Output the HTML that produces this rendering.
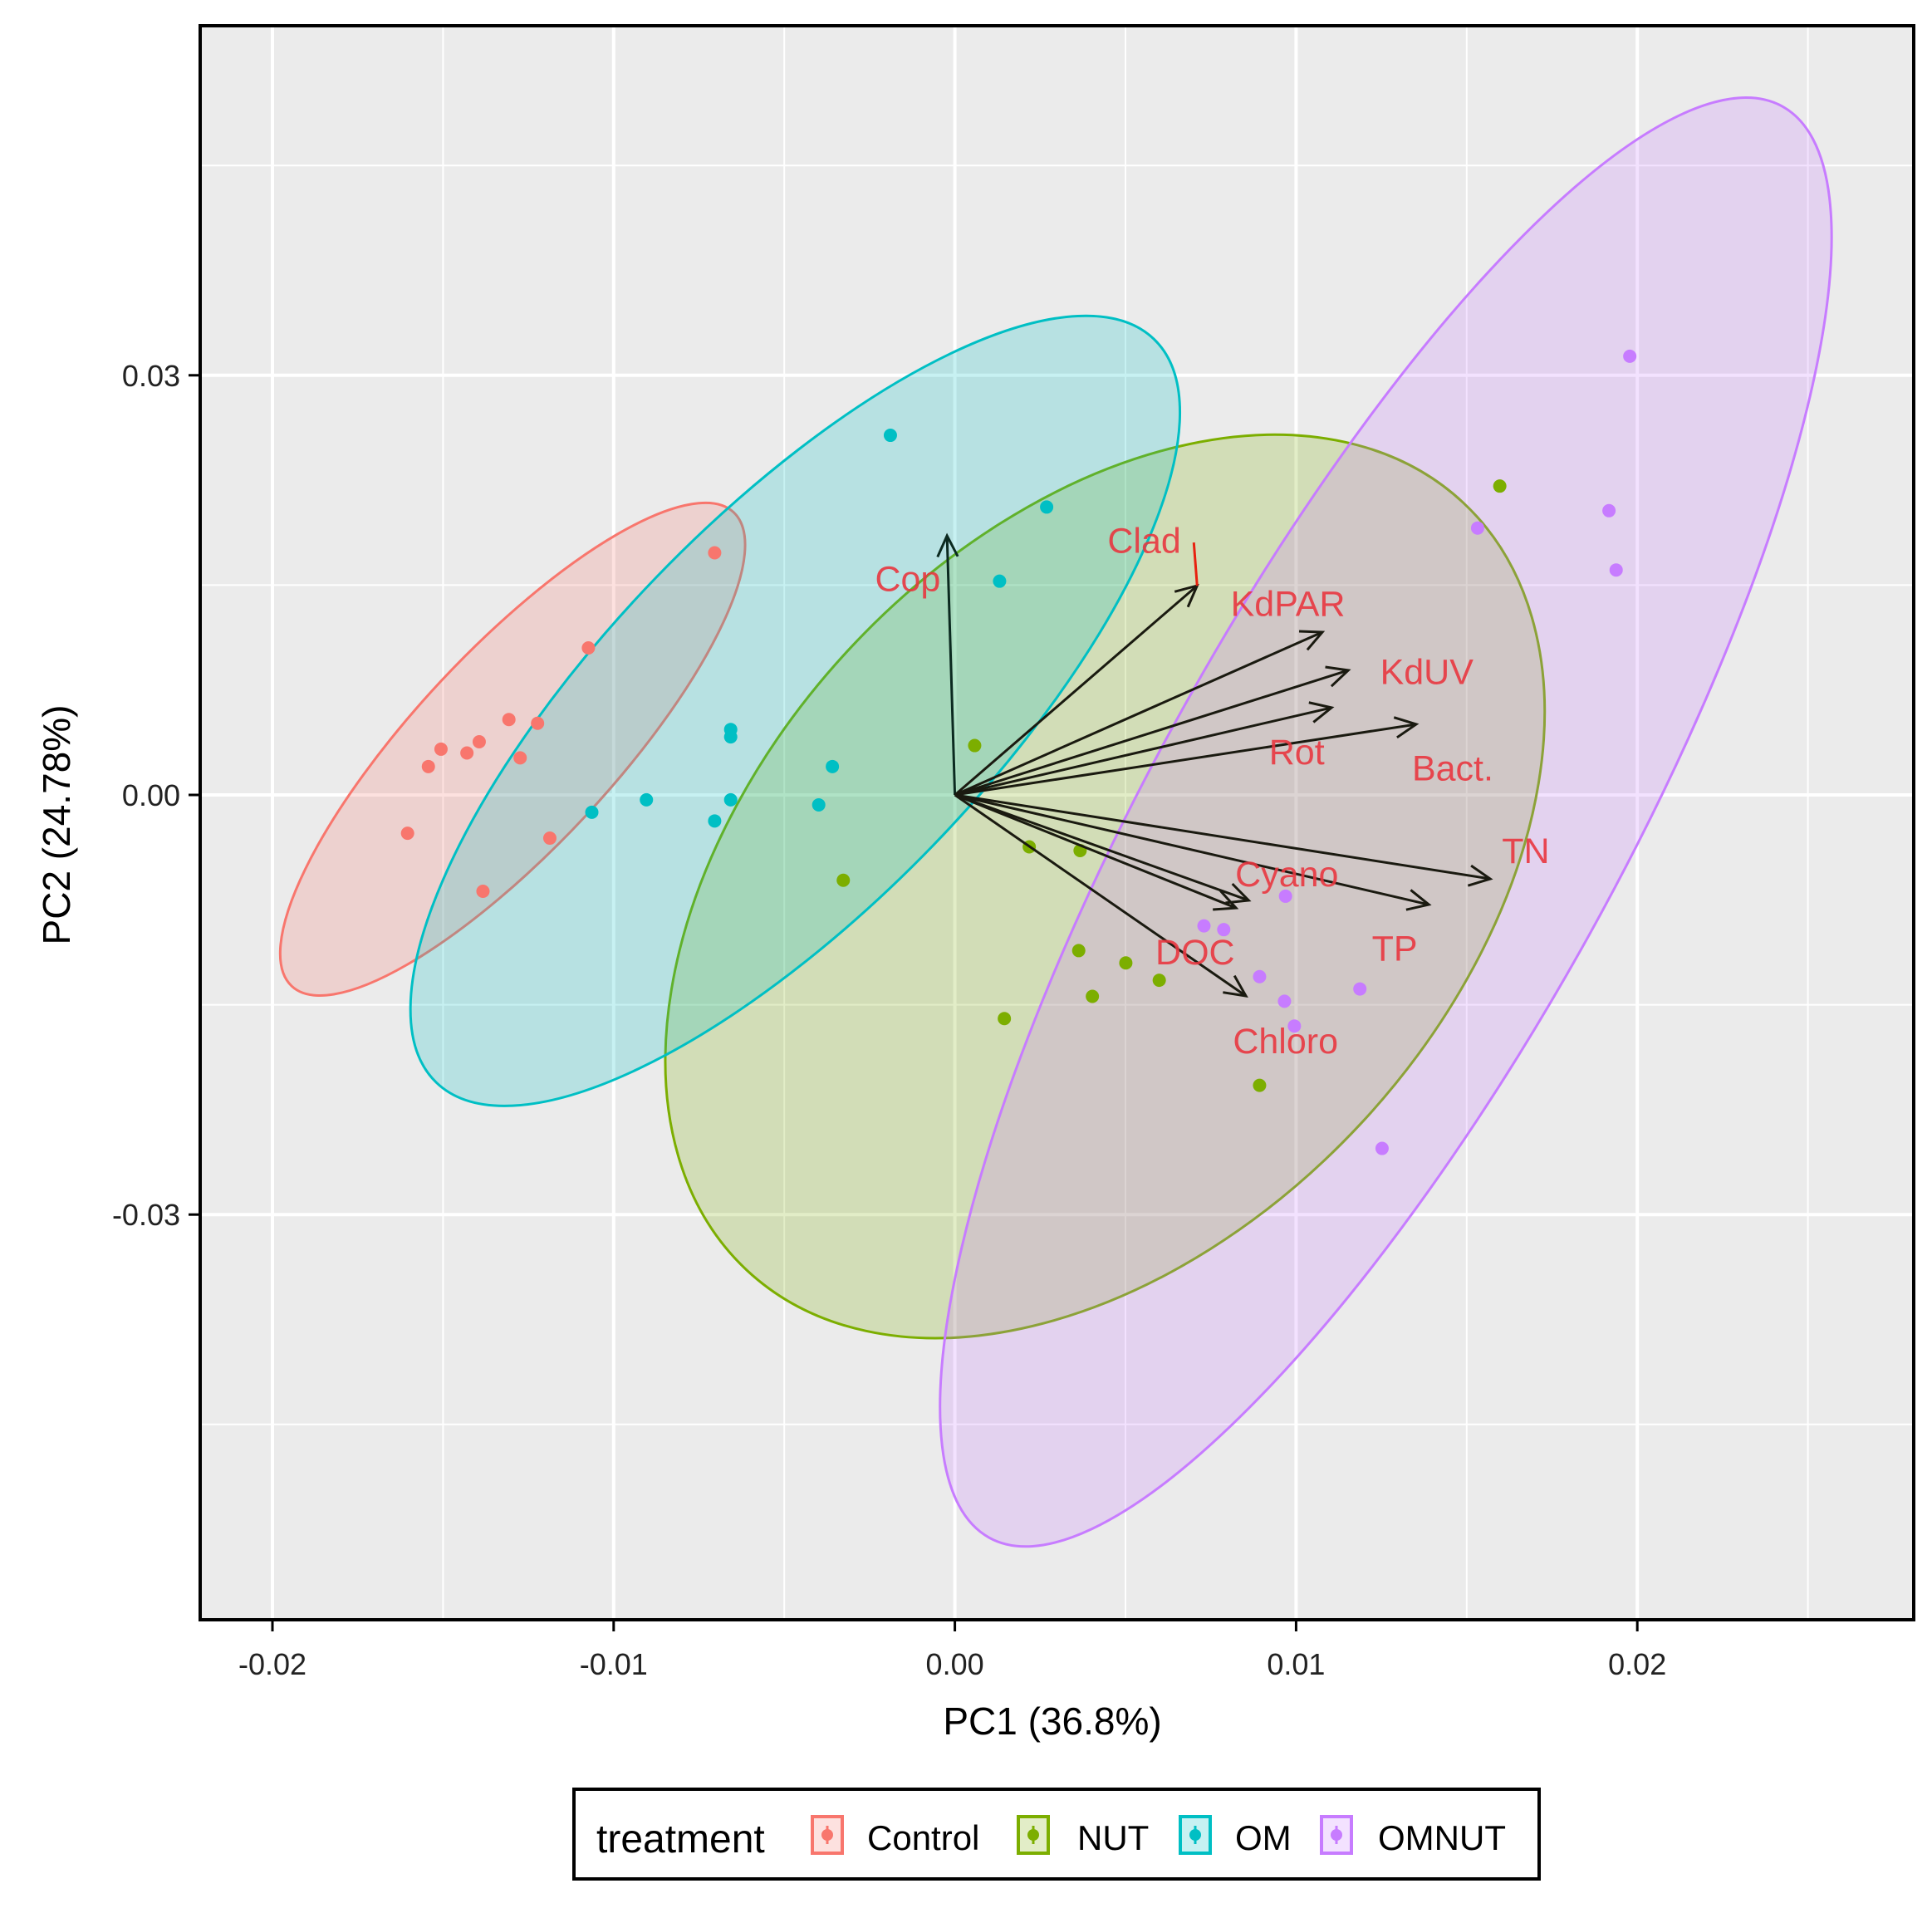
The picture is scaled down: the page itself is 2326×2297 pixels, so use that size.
<!DOCTYPE html>
<html><head><meta charset="utf-8"><style>
html,body{margin:0;padding:0;background:#fff;}
svg text{font-family:"Liberation Sans",sans-serif;}
</style></head><body>
<svg id="chart" xmlns="http://www.w3.org/2000/svg" width="2326" height="2292" viewBox="0 0 2326 2292">
<rect x="0" y="0" width="2326" height="2292" fill="#fff"/>
<g id="panel"></g>
<g id="ellipses"></g>
<g id="points"></g>
<g id="arrows"></g>
<g id="labels"></g>
<g id="axes"></g>
<g id="legend"></g>
</svg>
<script>
const xTicks = [-0.02, -0.01, 0.00, 0.01, 0.02];
const xTickLabels = ["-0.02", "-0.01", "0.00", "0.01", "0.02"];
const yTicks = [-0.03, 0.00, 0.03];
const yTickLabels = ["-0.03", "0.00", "0.03"];
const xMinor = [-0.015, -0.005, 0.005, 0.015, 0.025];
const yMinor = [-0.045, -0.015, 0.015, 0.045];
const groups = ["Control", "NUT", "OM", "OMNUT"];
const controlX = [-0.01074,-0.00704,-0.01307,-0.01223,-0.01394,-0.01506,-0.01430,-0.01543,-0.01274,-0.01604,-0.01187,-0.01383];
const controlY = [0.01051,0.01731,0.00539,0.00512,0.00380,0.00327,0.00300,0.00203,0.00265,-0.00274,-0.00309,-0.00689];
const nutX = [0.01597,0.00058,0.00218,0.00367,-0.00327,0.00363,0.00501,0.00599,0.00403,0.00145,0.00893];
const nutY = [0.02208,0.00353,-0.00371,-0.00398,-0.00610,-0.01113,-0.01201,-0.01325,-0.01440,-0.01599,-0.02076];
const omX = [-0.00189,0.00269,0.00131,-0.00657,-0.00657,-0.00359,-0.00399,-0.00657,-0.00904,-0.01064,-0.00704];
const omY = [0.02571,0.02058,0.01528,0.00468,0.00415,0.00203,-0.00071,-0.00035,-0.00035,-0.00124,-0.00186];
const omnutX = [0.01978,0.01917,0.01938,0.01532,0.00969,0.00730,0.00788,0.00893,0.00966,0.00995,0.01187,0.01252];
const omnutY = [0.03136,0.02032,0.01608,0.01908,-0.00724,-0.00936,-0.00963,-0.01299,-0.01475,-0.01652,-0.01387,-0.02527];
const ellipseCX = [-0.01296,0.00440,-0.00468,0.01263];
const ellipseCY = [0.00327,-0.00654,0.00601,-0.00194];
const arrowNames = ["Cop","KdPAR","KdUV","Rot","Rot2","Bact.","TN","TP","Cyano","Cyano2","Chloro"];
const arrowX = [-0.00023,0.00710,0.01077,0.01153,0.01104,0.01352,0.01569,0.01389,0.00861,0.00824,0.00853];
const arrowY = [0.01853,0.01496,0.01164,0.00891,0.00624,0.00505,-0.00600,-0.00784,-0.00754,-0.00808,-0.01437];
const labelNames = ["Cop","Clad","KdPAR","KdUV","Rot","Bact.","TN","Cyano","TP","DOC","Chloro"];
const labelX = [-0.00138,0.00555,0.00976,0.01383,0.01002,0.01459,0.01673,0.00973,0.01289,0.00704,0.00969];
const labelY = [0.01546,0.01820,0.01369,0.00883,0.00309,0.00194,-0.00398,-0.00565,-0.01095,-0.01122,-0.01758];

const NS="http://www.w3.org/2000/svg";
const L=241,T=31,R=2304,B=1950;
function X(v){return 1149.6+v*41080;}
function Y(v){return 957-v*16840;}
function mk(tag,attrs,parent){const e=document.createElementNS(NS,tag);for(const k in attrs)e.setAttribute(k,attrs[k]);parent.appendChild(e);return e;}
const colors=["#F8766D","#7CAE00","#00BFC4","#C77CFF"];
const xsAll=[controlX,nutX,omX,omnutX], ysAll=[controlY,nutY,omY,omnutY];
const eShape=[[390,119,-47],[632,420,-47],[622,232,-46],[985,280,-61]];

const panel=document.getElementById('panel');
let r=mk('rect',{x:L,y:T,width:R-L,height:B-T,fill:'#EBEBEB'},panel);


xMinor.forEach(v=>{const l=mk('line',{x1:X(v),x2:X(v),y1:T,y2:B,stroke:'#fff','stroke-width':2},panel);

});
yMinor.forEach(v=>{const l=mk('line',{x1:L,x2:R,y1:Y(v),y2:Y(v),stroke:'#fff','stroke-width':2},panel);

});
xTicks.forEach(v=>{const l=mk('line',{x1:X(v),x2:X(v),y1:T,y2:B,stroke:'#fff','stroke-width':4},panel);

});
yTicks.forEach(v=>{const l=mk('line',{x1:L,x2:R,y1:Y(v),y2:Y(v),stroke:'#fff','stroke-width':4},panel);

});

const eg=document.getElementById('ellipses');
groups.forEach((g,i)=>{const s=eShape[i];
const e=mk('ellipse',{cx:0,cy:0,rx:s[0],ry:s[1],fill:colors[i],'fill-opacity':0.22,stroke:colors[i],'stroke-width':3,transform:`translate(${X(ellipseCX[i])},${Y(ellipseCY[i])}) rotate(${s[2]})`},eg);

});

const pg=document.getElementById('points');
groups.forEach((g,i)=>{xsAll[i].forEach((xv,j)=>{
const c=mk('circle',{cx:X(xv),cy:Y(ysAll[i][j]),r:8,fill:colors[i]},pg);

});});

const ag=document.getElementById('arrows');
const ox=X(0),oy=Y(0);
arrowNames.forEach((n,i)=>{const tx=X(arrowX[i]),ty=Y(arrowY[i]);
const g=mk('g',{},ag);


const col=i===0?'#0b2a20':'#1a1a10';
mk('line',{x1:ox,y1:oy,x2:tx,y2:ty,stroke:col,'stroke-width':3},g);
const ang=Math.atan2(ty-oy,tx-ox),h=28,w=0.45;
mk('polyline',{points:`${tx-h*Math.cos(ang-w)},${ty-h*Math.sin(ang-w)} ${tx},${ty} ${tx-h*Math.cos(ang+w)},${ty-h*Math.sin(ang+w)}`,fill:'none',stroke:col,'stroke-width':3},g);});
const clad=mk('line',{x1:X(arrowX[1])-4,y1:Y(arrowY[1])-52,x2:X(arrowX[1]),y2:Y(arrowY[1]),stroke:'#e8210f','stroke-width':3},ag);



const lg=document.getElementById('labels');
labelNames.forEach((n,i)=>{const t=mk('text',{x:X(labelX[i]),y:Y(labelY[i])+15,'text-anchor':'middle','font-size':43,fill:'#E8363F','fill-opacity':0.9},lg);
t.textContent=n;

});

const ax=document.getElementById('axes');
const border=mk('rect',{x:L,y:T,width:R-L,height:B-T,fill:'none',stroke:'#000','stroke-width':4},ax);


xTicks.forEach((v,i)=>{mk('line',{x1:X(v),x2:X(v),y1:B,y2:B+14,stroke:'#000','stroke-width':3},ax);
const t=mk('text',{x:X(v),y:B+66,'text-anchor':'middle','font-size':36,fill:'#222'},ax);t.textContent=xTickLabels[i];

});
yTicks.forEach((v,i)=>{mk('line',{x1:L-14,x2:L,y1:Y(v),y2:Y(v),stroke:'#000','stroke-width':3},ax);
const t=mk('text',{x:L-24,y:Y(v)+13,'text-anchor':'end','font-size':36,fill:'#222'},ax);t.textContent=yTickLabels[i];

});
const xt=mk('text',{x:1267,y:2088,'text-anchor':'middle','font-size':46,fill:'#000'},ax);xt.textContent='PC1 (36.8%)';


const yt=mk('text',{x:0,y:0,'text-anchor':'middle','font-size':46,fill:'#000',transform:'translate(84,993) rotate(-90)'},ax);yt.textContent='PC2 (24.78%)';



const leg=document.getElementById('legend');
const lb=mk('rect',{x:691,y:2154,width:1162,height:108,fill:'#fff',stroke:'#000','stroke-width':4},leg);


const lt=mk('text',{x:718,y:2230,'font-size':48,fill:'#000'},leg);lt.textContent='treatment';


const keyX=[978,1226,1421,1591], txtX=[1044,1297,1487,1659];
groups.forEach((g,i)=>{const e=mk('g',{},leg);


mk('rect',{x:keyX[i],y:2187,width:36,height:44,fill:colors[i],'fill-opacity':0.22,stroke:colors[i],'stroke-width':4},e);
mk('line',{x1:keyX[i]+18,x2:keyX[i]+18,y1:2198,y2:2220,stroke:colors[i],'stroke-width':3},e);
mk('circle',{cx:keyX[i]+18,cy:2209,r:7,fill:colors[i]},e);
const t=mk('text',{x:txtX[i],y:2227,'font-size':42,fill:'#000'},e);t.textContent=g;});
</script>
</body></html>
